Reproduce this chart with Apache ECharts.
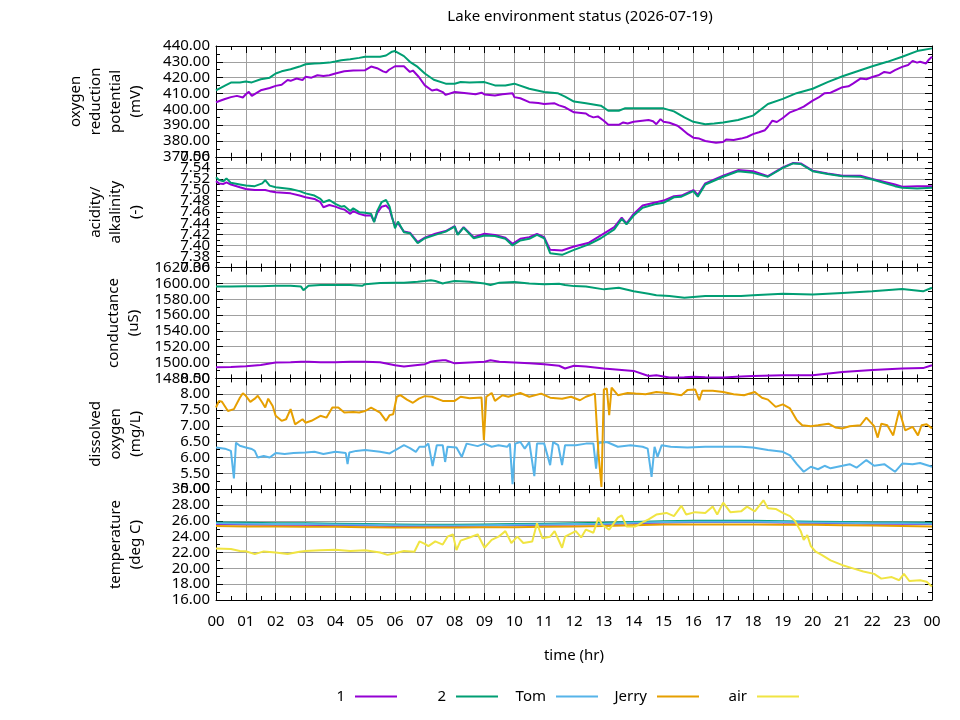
<!DOCTYPE html>
<html>
<head>
<meta charset="utf-8" />
<title>Lake environment status</title>
<script src="https://cdn.jsdelivr.net/npm/echarts@6/dist/echarts.min.js"></script>
<style>
  html, body { margin: 0; padding: 0; background: #fff; }
  #chart { width: 960px; height: 720px; }
</style>
</head>
<body>
<div id="chart"></div>
<script>
// tick labels for the shared time axis
const hourLabels = ["00", "01", "02", "03", "04", "05", "06", "07", "08", "09", "10", "11",
  "12", "13", "14", "15", "16", "17", "18", "19", "20", "21", "22", "23", "00"];

// oxygen reduction potential (mV)
const orpHours1 = [0, 0.3, 0.5, 0.7, 0.9, 1.0, 1.1, 1.2, 1.5, 1.8, 2.0, 2.2, 2.4, 2.5, 2.7, 2.9, 3.0, 3.2, 3.4, 3.6,
  3.8, 4.0, 4.3, 4.6, 5.0, 5.2, 5.4, 5.6, 5.7, 5.8, 6.0, 6.3, 6.5, 6.6, 6.8, 7.0, 7.24, 7.4, 7.6, 7.7, 8.0, 8.4, 8.7,
  8.9, 9.0, 9.35, 9.6, 9.94, 10.0, 10.2, 10.5, 10.8, 11.0, 11.35, 11.5, 11.7, 12.0, 12.4, 12.5, 12.65, 12.8, 13.0,
  13.15, 13.5, 13.65, 13.8, 14.0, 14.5, 14.65, 14.76, 14.9, 15.0, 15.2, 15.47, 15.65, 15.82, 16.0, 16.2, 16.4, 16.76,
  17.0, 17.1, 17.35, 17.6, 17.8, 18.0, 18.2, 18.4, 18.5, 18.65, 18.8, 19.0, 19.24, 19.5, 19.7, 20.0, 20.2, 20.4, 20.6,
  20.76, 21.0, 21.2, 21.35, 21.6, 21.8, 22.0, 22.2, 22.4, 22.6, 22.76, 23.0, 23.2, 23.35, 23.5, 23.6, 23.8, 23.9, 24.0];
const orp1 = [404.5, 406.5, 407.7, 408.5, 407.5, 409.5, 411, 408.5, 412, 413.5, 414.8, 415.5, 418.5, 418, 419.5, 418.5,
  420.5, 420, 421.5, 421, 421.5, 422.6, 424, 424.5, 424.7, 427, 426, 424, 423.3, 425, 427.2, 427.2, 423.6, 424.5, 420.4,
  415.1, 411.9, 412.5, 410.9, 409.1, 410.9, 410.2, 409.5, 410.5, 409.4, 408.7, 409.5, 410.2, 407.7, 407, 404.5, 404,
  403.4, 403.8, 402.5, 401.3, 398.1, 397.4, 396, 394.9, 395.5, 392.8, 390.2, 390.2, 391.7, 391, 392.1, 393.2, 392.5,
  390.6, 393.8, 392.1, 391.5, 389.6, 387, 384.3, 382.1, 381.5, 380, 378.9, 379.4, 381, 380.6, 381.5, 382.5, 384.3,
  385.5, 386.8, 389, 392.8, 392, 394.5, 398.1, 400, 401.7, 405.5, 407.5, 410.2, 410.5, 411.9, 414, 414.5, 416.2, 419.4,
  419, 420.4, 421.5, 423.6, 423, 424.7, 426.8, 428, 430.6, 429.5, 430, 429, 431.5, 433.2];
const orpHours2 = [0, 0.3, 0.5, 0.8, 1.0, 1.2, 1.5, 1.8, 2.0, 2.2, 2.5, 2.8, 3.0, 3.3, 3.5, 3.8, 4.0, 4.2, 4.5, 4.8,
  5.0, 5.5, 5.7, 5.9, 6.0, 6.3, 6.5, 6.76, 7.0, 7.3, 7.7, 8.0, 8.2, 8.5, 9.0, 9.35, 9.7, 10.0, 10.5, 11.0, 11.45, 11.7,
  12.0, 12.4, 12.9, 13.15, 13.5, 13.7, 14.0, 15.0, 15.35, 15.7, 16.0, 16.4, 16.7, 17.0, 17.5, 18.0, 18.5, 19.0, 19.46,
  20.0, 20.5, 21.0, 21.6, 22.0, 22.5, 23.0, 23.5, 24.0];
const orp2 = [412, 415, 416.9, 417, 417.5, 417, 419, 420, 422.6, 424, 425.3, 427, 428.5, 429, 429.1, 429.5, 430.2, 431,
  431.7, 432.5, 433.2, 433.2, 434, 436.4, 436.8, 433.6, 430, 426.8, 422.6, 418.7, 416.2, 416.2, 417.2, 417, 417.2,
  415.1, 415, 416.2, 413, 410.9, 410.2, 408, 404.9, 403.8, 402.3, 399.1, 399.1, 400.6, 400.6, 400.6, 398.7, 394.9,
  392.1, 390.6, 391, 391.7, 393.2, 396, 403.4, 406.6, 410.2, 413, 417.2, 420.9, 424.7, 427.2, 430, 433.2, 436.8, 438.5];

// acidity / alkalinity (-)
const phHours = [0, 0.1, 0.25, 0.35, 0.5, 0.8, 1.0, 1.3, 1.55, 1.65, 1.8, 2.0, 2.5, 2.8, 3.0, 3.3, 3.5, 3.6, 3.8, 4.0,
  4.2, 4.3, 4.5, 4.6, 4.8, 5.0, 5.2, 5.3, 5.4, 5.55, 5.7, 5.82, 5.9, 6.0, 6.1, 6.3, 6.5, 6.76, 7.0, 7.35, 7.7, 8.0, 8.1,
  8.3, 8.64, 9.0, 9.35, 9.7, 9.94, 10.2, 10.5, 10.76, 11.0, 11.2, 11.6, 12.0, 12.5, 12.9, 13.35, 13.6, 13.76, 14.0,
  14.3, 14.76, 15.0, 15.35, 15.6, 16.0, 16.15, 16.4, 17.0, 17.5, 18.0, 18.5, 19.0, 19.35, 19.6, 20.0, 20.5, 21.0, 21.6,
  22.0, 22.76, 23.0, 23.5, 24.0];
const ph1 = [7.516, 7.512, 7.511, 7.514, 7.51, 7.505, 7.502, 7.5, 7.5, 7.5, 7.498, 7.496, 7.494, 7.49, 7.487, 7.484,
  7.478, 7.469, 7.473, 7.47, 7.466, 7.465, 7.457, 7.462, 7.457, 7.454, 7.454, 7.443, 7.458, 7.47, 7.472, 7.465, 7.45,
  7.436, 7.44, 7.425, 7.423, 7.406, 7.414, 7.421, 7.426, 7.435, 7.42, 7.433, 7.415, 7.421, 7.419, 7.414, 7.403, 7.412,
  7.415, 7.421, 7.415, 7.392, 7.391, 7.398, 7.405, 7.418, 7.433, 7.45, 7.44, 7.457, 7.472, 7.478, 7.481, 7.489, 7.49,
  7.5, 7.491, 7.512, 7.526, 7.536, 7.534, 7.525, 7.541, 7.549, 7.548, 7.535, 7.53, 7.526, 7.526, 7.52, 7.51, 7.506,
  7.507, 7.507];
const ph2 = [7.523, 7.518, 7.516, 7.521, 7.513, 7.51, 7.508, 7.507, 7.512, 7.518, 7.508, 7.505, 7.502, 7.498, 7.494,
  7.49, 7.484, 7.478, 7.482, 7.475, 7.47, 7.471, 7.462, 7.467, 7.46, 7.459, 7.457, 7.442, 7.462, 7.478, 7.482, 7.47,
  7.452, 7.431, 7.443, 7.424, 7.422, 7.404, 7.413, 7.419, 7.425, 7.434, 7.419, 7.432, 7.413, 7.418, 7.417, 7.412, 7.4,
  7.409, 7.412, 7.419, 7.413, 7.386, 7.383, 7.392, 7.402, 7.413, 7.429, 7.448, 7.438, 7.454, 7.468, 7.475, 7.477,
  7.487, 7.488, 7.498, 7.488, 7.51, 7.524, 7.534, 7.531, 7.524, 7.54, 7.548, 7.547, 7.534, 7.529, 7.525, 7.524, 7.519,
  7.507, 7.504, 7.503, 7.504];

// conductance (uS)
const condHours = [0, 0.5, 1, 1.5, 2, 2.5, 2.85, 2.93, 3.1, 3.5, 4, 4.5, 4.9, 5, 5.5, 6, 6.3, 6.76, 7, 7.2, 7.35, 7.6,
  7.7, 8, 8.5, 9, 9.2, 9.5, 10, 10.5, 11, 11.5, 11.7, 12, 12.4, 13, 13.5, 14, 14.5, 14.76, 15.2, 15.7, 16, 16.4, 17,
  17.6, 18, 19, 20, 21, 22, 23, 23.7, 24];
const cond1 = [1494, 1494.5, 1495.5, 1497, 1500, 1500.5, 1501, 1501, 1501, 1500.5, 1500.5, 1501, 1501, 1501, 1500.5,
  1496.5, 1495, 1497, 1498, 1501, 1502, 1503, 1503, 1499, 1500, 1501, 1503, 1501, 1500, 1499, 1498, 1496, 1492.5, 1496,
  1495, 1492.5, 1491, 1489.5, 1483, 1484, 1481, 1481.5, 1482, 1481.5, 1481, 1482.5, 1483, 1484, 1484, 1488, 1490.5,
  1492.5, 1493, 1496.6];
const cond2 = [1596, 1596, 1596.5, 1596.5, 1597, 1597, 1596, 1591.5, 1597, 1598, 1598, 1598, 1597, 1599, 1600.5, 1601,
  1601, 1602, 1603, 1604, 1603, 1600, 1601, 1603, 1602, 1600, 1598, 1601, 1601.7, 1600, 1599, 1599.5, 1598, 1596.6,
  1596, 1592.5, 1594.5, 1590, 1587, 1585, 1584, 1582, 1583, 1584, 1584, 1584, 1585, 1587, 1586, 1588, 1590, 1593, 1590,
  1594.5];

// dissolved oxygen (mg/L)
const tomHours = [0, 0.3, 0.5, 0.55, 0.6, 0.67, 0.8, 1.0, 1.2, 1.3, 1.4, 1.6, 1.8, 2.0, 2.3, 2.6, 3.0, 3.3, 3.6, 4.0,
  4.35, 4.41, 4.47, 4.7, 5.0, 5.5, 5.82, 6.0, 6.3, 6.5, 6.7, 6.82, 7.0, 7.12, 7.26, 7.4, 7.6, 7.68, 7.76, 8.06, 8.24,
  8.4, 8.77, 9.0, 9.24, 9.47, 9.76, 9.85, 9.94, 10.03, 10.2, 10.35, 10.5, 10.67, 10.76, 11.0, 11.2, 11.3, 11.47, 11.6,
  11.7, 12.06, 12.4, 12.65, 12.74, 12.82, 13.1, 13.47, 13.9, 14.3, 14.47, 14.6, 14.7, 14.8, 14.94, 15.24, 15.8, 16.4,
  17.0, 17.6, 18.0, 18.5, 19.0, 19.24, 19.47, 19.7, 19.94, 20.18, 20.4, 20.6, 21.0, 21.24, 21.47, 21.8, 22.06, 22.4,
  22.76, 23.0, 23.35, 23.6, 24.0];
const doTom = [6.32, 6.28, 6.21, 6.15, 5.34, 6.47, 6.37, 6.32, 6.27, 6.21, 6.0, 6.05, 6.0, 6.14, 6.11, 6.14, 6.16, 6.18,
  6.11, 6.18, 6.14, 5.79, 6.16, 6.21, 6.24, 6.18, 6.13, 6.23, 6.39, 6.3, 6.18, 6.34, 6.34, 6.44, 5.73, 6.39, 6.39, 5.86,
  6.34, 6.32, 6.02, 6.44, 6.36, 6.44, 6.34, 6.39, 6.34, 6.44, 5.16, 6.44, 6.49, 6.28, 6.49, 5.41, 6.44, 6.44, 5.76,
  6.49, 6.39, 5.76, 6.39, 6.39, 6.44, 6.44, 5.65, 6.46, 6.49, 6.34, 6.39, 6.34, 6.28, 5.39, 6.34, 6.02, 6.39, 6.34,
  6.32, 6.34, 6.34, 6.34, 6.32, 6.24, 6.18, 6.07, 5.79, 5.55, 5.71, 5.63, 5.74, 5.66, 5.74, 5.79, 5.68, 5.92, 5.74,
  5.79, 5.55, 5.81, 5.79, 5.83, 5.71];
const jerryHours = [0, 0.1, 0.2, 0.4, 0.6, 0.8, 0.9, 1.0, 1.15, 1.3, 1.4, 1.55, 1.65, 1.75, 1.9, 2.0, 2.2, 2.35, 2.5,
  2.65, 2.9, 3.0, 3.2, 3.5, 3.7, 3.9, 4.1, 4.3, 4.6, 4.8, 5.0, 5.2, 5.5, 5.7, 5.82, 5.94, 6.06, 6.18, 6.4, 6.6, 6.8, 7.0,
  7.24, 7.6, 8.0, 8.2, 8.5, 8.9, 8.98, 9.06, 9.24, 9.35, 9.6, 9.8, 10.2, 10.5, 10.9, 11.2, 11.6, 11.9, 12.2, 12.4,
  12.7, 12.82, 12.92, 13.0, 13.1, 13.18, 13.26, 13.47, 13.8, 14.06, 14.4, 14.76, 15.1, 15.6, 15.8, 16.06, 16.2, 16.3,
  16.65, 17.0, 17.35, 17.7, 18.06, 18.3, 18.5, 18.76, 19.0, 19.24, 19.47, 19.65, 19.94, 20.18, 20.53, 20.76, 21.0,
  21.24, 21.6, 21.8, 22.06, 22.18, 22.3, 22.5, 22.7, 22.9, 23.1, 23.35, 23.53, 23.65, 23.82, 24.0];
const doJerry = [7.58, 7.79, 7.76, 7.47, 7.53, 7.89, 8.03, 7.95, 7.76, 7.86, 7.95, 7.74, 7.58, 7.86, 7.63, 7.32, 7.16,
  7.21, 7.53, 7.05, 7.21, 7.1, 7.16, 7.32, 7.26, 7.58, 7.58, 7.42, 7.44, 7.42, 7.47, 7.58, 7.42, 7.16, 7.34, 7.37, 7.92,
  7.97, 7.83, 7.73, 7.86, 7.94, 7.92, 7.79, 7.79, 7.92, 7.87, 7.9, 6.55, 7.92, 8.04, 7.79, 7.97, 7.92, 8.04, 7.92, 8.02,
  7.89, 7.86, 7.92, 7.81, 7.92, 8.02, 6.13, 5.07, 8.15, 8.18, 7.34, 8.21, 7.97, 8.04, 8.02, 8.0, 8.07, 8.04, 7.97, 8.13,
  8.15, 7.81, 8.11, 8.11, 8.07, 8.0, 7.97, 8.07, 7.89, 7.83, 7.6, 7.68, 7.55, 7.18, 7.02, 6.99, 7.02, 7.07, 6.95, 6.92,
  6.99, 7.02, 7.26, 6.99, 6.63, 7.07, 7.02, 6.7, 7.49, 6.86, 6.97, 6.7, 7.02, 7.05, 6.92];

// temperature (deg C)
const waterHours = [0, 1, 2, 3, 4, 5, 6, 7, 8, 9, 10, 11, 12, 13, 14, 15, 16, 17, 18, 19, 20, 21, 22, 23, 24];
const temp1 = [25.6, 25.55, 25.5, 25.5, 25.45, 25.4, 25.35, 25.35, 25.35, 25.4, 25.45, 25.5, 25.55, 25.6, 25.7, 25.8,
  25.85, 25.85, 25.85, 25.8, 25.75, 25.7, 25.65, 25.65, 25.6];
const temp2 = [25.8, 25.75, 25.7, 25.7, 25.65, 25.6, 25.55, 25.5, 25.5, 25.55, 25.6, 25.65, 25.7, 25.75, 25.85, 25.95,
  26.0, 26.0, 26.0, 25.95, 25.9, 25.85, 25.8, 25.8, 25.75];
const tempTom = [25.7, 25.65, 25.6, 25.6, 25.55, 25.5, 25.45, 25.4, 25.4, 25.45, 25.5, 25.55, 25.6, 25.65, 25.75, 25.85,
  25.9, 25.9, 25.9, 25.85, 25.8, 25.75, 25.7, 25.7, 25.65];
const tempJerry = [25.35, 25.3, 25.3, 25.25, 25.25, 25.2, 25.15, 25.15, 25.15, 25.2, 25.2, 25.25, 25.3, 25.35, 25.45,
  25.55, 25.55, 25.55, 25.55, 25.5, 25.5, 25.45, 25.4, 25.35, 25.3];
const airHours = [0, 0.5, 0.8, 1.0, 1.3, 1.6, 2.0, 2.4, 2.8, 3.0, 3.5, 4.0, 4.5, 5.0, 5.5, 5.75, 6.0, 6.3, 6.65, 6.82,
  7.0, 7.12, 7.35, 7.6, 7.76, 7.94, 8.06, 8.2, 8.5, 8.77, 9.0, 9.24, 9.47, 9.7, 9.9, 10.1, 10.3, 10.6, 10.76, 10.94,
  11.2, 11.35, 11.6, 11.7, 12.06, 12.24, 12.4, 12.65, 12.82, 12.94, 13.18, 13.47, 13.6, 13.76, 14.06, 14.3, 14.5,
  14.76, 15.1, 15.35, 15.6, 15.76, 16.06, 16.4, 16.65, 16.8, 17.0, 17.24, 17.6, 17.8, 18.06, 18.35, 18.5, 18.76, 19.0,
  19.24, 19.4, 19.6, 19.7, 19.82, 19.94, 20.1, 20.3, 20.6, 21.0, 21.35, 21.7, 22.06, 22.3, 22.65, 22.9, 23.06, 23.24,
  23.6, 23.82, 24.0];
const tempAir = [22.52, 22.44, 22.2, 22.15, 21.8, 22.14, 22.0, 21.8, 22.1, 22.2, 22.3, 22.35, 22.2, 22.3, 22.0, 21.7,
  21.9, 22.2, 22.1, 23.4, 23.1, 22.8, 23.4, 23.0, 24.0, 24.3, 22.3, 23.5, 23.9, 24.3, 22.6, 23.6, 24.0, 24.7, 23.2,
  24.0, 23.2, 23.4, 25.7, 23.8, 24.0, 24.7, 22.6, 24.0, 24.7, 23.9, 24.9, 24.5, 26.4, 25.5, 24.9, 26.4, 26.7, 25.3,
  25.3, 25.8, 26.2, 26.8, 27.0, 26.6, 27.9, 26.8, 27.1, 27.0, 27.8, 26.8, 28.3, 27.1, 27.2, 27.8, 27.2, 28.6, 27.6,
  27.5, 27.0, 26.6, 26.0, 24.7, 23.6, 24.2, 22.8, 22.1, 21.7, 21.0, 20.4, 20.0, 19.6, 19.3, 18.7, 18.9, 18.5, 19.3,
  18.4, 18.5, 18.3, 17.7];

const colors = {
  "1": "#9400d3",
  "2": "#009e73",
  Tom: "#56b4e9",
  Jerry: "#e69f00",
  air: "#f0e442",
};

const font = "Noto Sans";
const plotTop = 46;
const plotBottom = 600;
const panelHeight = (plotBottom - plotTop) / 5;

// the pH axis runs in hundredths so its 0.02 steps stay exact
const panels = [
  { name: "oxygen\nreduction\npotential\n(mV)", min: 370, max: 440, interval: 10, scale: 1 },
  { name: "acidity/\nalkalinity\n(-)", min: 736, max: 756, interval: 2, scale: 100 },
  { name: "conductance\n(uS)", min: 1480, max: 1620, interval: 20, scale: 1 },
  { name: "dissolved\noxygen\n(mg/L)", min: 5, max: 8.5, interval: 0.5, scale: 1 },
  { name: "temperature\n(deg C)", min: 16, max: 30, interval: 2, scale: 1 },
];

// each panel has three y axes: main (inner labels), right mirror, ends (min/max labels only)
const Y_PER_PANEL = 3;

function pairs(hours, values, scale) {
  return hours.map((hour, i) => [hour, Math.round(values[i] * scale * 1000) / 1000]);
}

function lineSeries(name, panel, hours, values) {
  return {
    name,
    type: "line",
    xAxisIndex: panel * 2,
    yAxisIndex: panel * Y_PER_PANEL,
    data: pairs(hours, values, panels[panel].scale),
    showSymbol: false,
    color: colors[name],
    lineStyle: { width: 2, color: colors[name] },
    z: 3,
  };
}

const tickStyle = { color: "#000", width: 1 };

function yLabel(panel, extra) {
  return Object.assign(
    {
      margin: 6,
      fontSize: 15,
      fontFamily: font,
      color: "#000",
      formatter: (value) => (value / panel.scale).toFixed(2),
    },
    extra,
  );
}

const grids = panels.map((panel, i) => ({
  left: 216,
  right: 28,
  top: plotTop + i * panelHeight,
  height: panelHeight,
}));

const xAxes = [];
const yAxes = [];
panels.forEach((panel, i) => {
  const isLast = i === panels.length - 1;
  xAxes.push({
    type: "value",
    gridIndex: i,
    min: 0,
    max: 24,
    interval: 1,
    axisLine: { show: true, onZero: false, lineStyle: tickStyle },
    axisTick: { show: true, inside: true, length: 7, lineStyle: tickStyle },
    minorTick: { show: true, splitNumber: 2, length: 4, lineStyle: tickStyle },
    splitLine: { show: true, lineStyle: { color: "#a0a0a0", width: 1 } },
    axisLabel: {
      show: isLast,
      margin: 14,
      fontSize: 15,
      fontFamily: font,
      color: "#000",
      formatter: (value) => hourLabels[Math.round(value)],
    },
    name: isLast ? "time (hr)" : "",
    nameLocation: "middle",
    nameGap: 48,
    nameTextStyle: { fontSize: 15, fontFamily: font, color: "#000" },
  });
  xAxes.push({
    type: "value",
    gridIndex: i,
    position: "top",
    min: 0,
    max: 24,
    interval: 1,
    axisLine: { show: true, onZero: false, lineStyle: tickStyle },
    axisTick: { show: true, inside: true, length: 7, lineStyle: tickStyle },
    minorTick: { show: true, splitNumber: 2, length: 4, lineStyle: tickStyle },
    splitLine: { show: false },
    axisLabel: { show: false },
  });
  yAxes.push({
    type: "value",
    gridIndex: i,
    min: panel.min,
    max: panel.max,
    interval: panel.interval,
    axisLine: { show: true, onZero: false, lineStyle: tickStyle },
    axisTick: { show: true, inside: true, length: 7, lineStyle: tickStyle },
    minorTick: { show: true, splitNumber: 2, length: 4, lineStyle: tickStyle },
    splitLine: { show: true, lineStyle: { color: "#a0a0a0", width: 1 } },
    axisLabel: yLabel(panel, { showMinLabel: false, showMaxLabel: false }),
    name: panel.name,
    nameLocation: "middle",
    nameRotate: 90,
    nameGap: 70,
    nameTextStyle: { fontSize: 15, lineHeight: 20, fontFamily: font, color: "#000", align: "center" },
  });
  yAxes.push({
    type: "value",
    gridIndex: i,
    position: "right",
    min: panel.min,
    max: panel.max,
    interval: panel.interval,
    axisLine: { show: true, onZero: false, lineStyle: tickStyle },
    axisTick: { show: true, inside: true, length: 7, lineStyle: tickStyle },
    minorTick: { show: true, splitNumber: 2, length: 4, lineStyle: tickStyle },
    splitLine: { show: false },
    axisLabel: { show: false },
  });
  yAxes.push({
    type: "value",
    gridIndex: i,
    position: "left",
    min: panel.min,
    max: panel.max,
    interval: panel.max - panel.min,
    axisLine: { show: false },
    axisTick: { show: false },
    splitLine: { show: false },
    axisLabel: yLabel(panel, { showMinLabel: true, showMaxLabel: true }),
  });
});

const series = [
  lineSeries("1", 0, orpHours1, orp1),
  lineSeries("2", 0, orpHours2, orp2),
  lineSeries("1", 1, phHours, ph1),
  lineSeries("2", 1, phHours, ph2),
  lineSeries("1", 2, condHours, cond1),
  lineSeries("2", 2, condHours, cond2),
  lineSeries("Tom", 3, tomHours, doTom),
  lineSeries("Jerry", 3, jerryHours, doJerry),
  lineSeries("1", 4, waterHours, temp1),
  lineSeries("2", 4, waterHours, temp2),
  lineSeries("Tom", 4, waterHours, tempTom),
  lineSeries("Jerry", 4, waterHours, tempJerry),
  lineSeries("air", 4, airHours, tempAir),
];

// one legend per key entry, text on the left of the sample line
const legendNames = ["1", "2", "Tom", "Jerry", "air"];
const legendLineEnds = [397, 498, 598, 699, 799];
const legends = legendNames.map((name, i) => ({
  data: [name],
  right: 960 - legendLineEnds[i],
  top: 689,
  padding: 0,
  align: "right",
  icon: "rect",
  itemWidth: 42,
  itemHeight: 2,
  selectedMode: false,
  textStyle: { fontSize: 15, fontFamily: font, color: "#000", padding: [0, 5, 0, 0] },
}));

const chart = echarts.init(document.querySelector("#chart"), null, { renderer: "canvas" });
chart.setOption({
  animation: false,
  backgroundColor: "#fff",
  textStyle: { fontFamily: font },
  title: {
    text: "Lake environment status (2026-07-19)",
    left: 575,
    top: 4,
    textAlign: "center",
    textStyle: { fontSize: 15, fontWeight: "normal", fontFamily: font, color: "#000" },
  },
  legend: legends,
  grid: grids,
  xAxis: xAxes,
  yAxis: yAxes,
  series,
});
</script>
</body>
</html>
